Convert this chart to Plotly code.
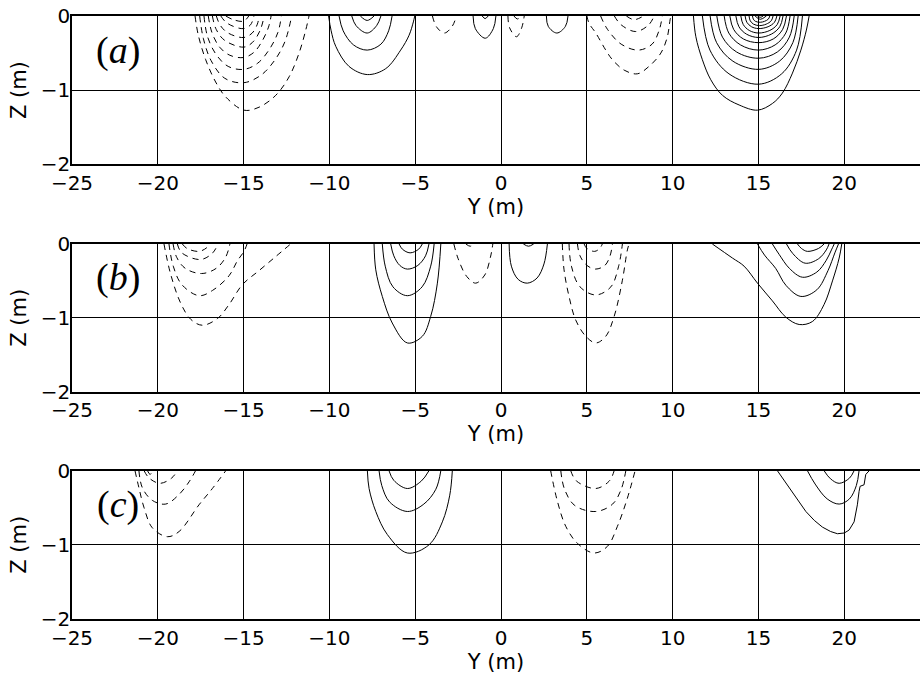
import plotly.graph_objects as go

# Axis ticks (metres)
Y_TICKS = [-25, -20, -15, -10, -5, 0, 5, 10, 15, 20, 25]
Z_TICKS = [-2, -1, 0]
Y_RANGE = [-25, 24.41]
Z_RANGE = [-2, 0]
PANEL_LABELS = ["(<i>a</i>)", "(<i>b</i>)", "(<i>c</i>)"]

# Contour lines, one (Y, Z) pair of lists per line.
# Positive levels are drawn solid, negative levels dashed.

# ---- panel (a) ----
A_POSITIVE = [
    # cell near Y = -8
    ([-10.05, -9.9, -9.63, -8.86, -7.79, -6.72, -5.85, -5.36, -5.11, -5.03],
     [0, -0.2, -0.41, -0.68, -0.79, -0.71, -0.46, -0.26, -0.08, 0]),
    ([-9.44, -9.2, -8.6, -7.8, -7.0, -6.55, -6.35],
     [0, -0.2, -0.39, -0.46, -0.38, -0.2, 0]),
    ([-8.7, -8.45, -7.8, -7.25, -7.0],
     [0, -0.13, -0.23, -0.13, 0]),
    ([-8.2, -7.8, -7.4],
     [0, -0.06, 0]),
    # small cells near the centre
    ([-1.63, -1.5, -0.92, -0.45, -0.3],
     [0, -0.17, -0.30, -0.17, 0]),
    ([-1.1, -0.93, -0.75],
     [0, -0.035, 0]),
    ([2.64, 2.75, 3.25, 3.75, 3.9],
     [0, -0.14, -0.23, -0.14, 0]),
    # cell near Y = 15
    ([11.21, 11.35, 11.73, 12.22, 12.90, 13.87, 14.94, 15.81, 16.39, 16.98, 17.47, 17.79, 17.95],
     [0, -0.28, -0.59, -0.86, -1.07, -1.20, -1.27, -1.18, -1.04, -0.77, -0.46, -0.19, 0]),
    ([11.73, 12.17, 13.28, 15.0, 16.35, 17.22, 17.56],
     [0, -0.46, -0.78, -0.92, -0.78, -0.46, 0]),
    ([12.18, 12.56, 13.51, 15.0, 16.22, 17.0, 17.31],
     [0, -0.36, -0.61, -0.72, -0.61, -0.36, 0]),
    ([12.57, 12.90, 13.72, 15.0, 16.10, 16.80, 17.08],
     [0, -0.285, -0.485, -0.57, -0.485, -0.285, 0]),
    ([13.0, 13.27, 13.95, 15.0, 15.97, 16.59, 16.84],
     [0, -0.23, -0.39, -0.46, -0.39, -0.23, 0]),
    ([13.33, 13.55, 14.12, 15.0, 15.86, 16.41, 16.63],
     [0, -0.18, -0.31, -0.36, -0.31, -0.18, 0]),
    ([13.68, 13.86, 14.30, 15.0, 15.75, 16.24, 16.43],
     [0, -0.145, -0.245, -0.29, -0.245, -0.145, 0]),
    ([13.97, 14.11, 14.46, 15.0, 15.66, 16.09, 16.26],
     [0, -0.115, -0.195, -0.23, -0.195, -0.115, 0]),
    ([14.22, 14.32, 14.59, 15.0, 15.56, 15.93, 16.07],
     [0, -0.085, -0.145, -0.17, -0.145, -0.085, 0]),
    ([14.45, 14.52, 14.71, 15.05, 15.45, 15.74, 15.85],
     [0, -0.065, -0.11, -0.13, -0.11, -0.065, 0]),
    ([14.65, 14.70, 14.82, 15.1, 15.35, 15.57, 15.66],
     [0, -0.043, -0.072, -0.085, -0.072, -0.043, 0]),
    ([14.80, 15.1, 15.46],
     [0, -0.045, 0]),
    ([14.94, 15.1, 15.27],
     [0, -0.018, 0]),
]
A_NEGATIVE = [
    # cell near Y = -15
    ([-17.83, -17.64, -17.21, -16.63, -16.05, -14.98, -14.10, -13.13, -12.35, -11.77, -11.38, -11.19],
     [0, -0.26, -0.59, -0.89, -1.09, -1.27, -1.23, -1.07, -0.82, -0.50, -0.19, 0]),
    ([-17.56, -17.35, -16.9, -16.1, -15.0, -14.0, -13.2, -12.6, -12.2],
     [0, -0.3, -0.6, -0.84, -0.90, -0.80, -0.6, -0.35, 0]),
    ([-17.31, -17.1, -16.6, -15.9, -15.0, -14.2, -13.5, -13.0, -12.8],
     [0, -0.28, -0.52, -0.68, -0.72, -0.64, -0.45, -0.22, 0]),
    ([-17.06, -16.85, -16.4, -15.8, -15.0, -14.4, -13.9, -13.55, -13.4],
     [0, -0.22, -0.42, -0.53, -0.56, -0.49, -0.33, -0.15, 0]),
    ([-16.82, -16.6, -16.1, -15.0, -14.5, -14.05, -13.8],
     [0, -0.18, -0.33, -0.42, -0.36, -0.2, 0]),
    ([-16.59, -16.35, -15.9, -15.0, -14.5, -14.2, -14.1],
     [0, -0.13, -0.23, -0.29, -0.23, -0.11, 0]),
    ([-16.33, -16.05, -15.6, -15.0, -14.6, -14.4],
     [0, -0.08, -0.14, -0.17, -0.12, 0]),
    ([-16.04, -15.6, -15.0, -14.7],
     [0, -0.05, -0.07, 0]),
    # small cells near the centre
    ([-4.0, -3.75, -3.3, -2.85, -2.6],
     [0, -0.15, -0.23, -0.14, 0]),
    ([0.4, 0.5, 0.9, 1.2, 1.35],
     [0, -0.16, -0.28, -0.16, 0]),
    ([0.75, 0.95, 1.2],
     [0, -0.04, 0]),
    # cell near Y = 8
    ([5.0, 5.13, 5.52, 6.1, 6.49, 7.17, 7.94, 8.62, 9.31, 9.69, 9.85, 9.9],
     [0, -0.10, -0.23, -0.46, -0.59, -0.73, -0.78, -0.68, -0.50, -0.28, -0.05, 0]),
    ([5.8, 6.2, 7.0, 8.0, 8.8, 9.2, 9.4],
     [0, -0.18, -0.38, -0.46, -0.38, -0.2, 0]),
    ([6.6, 7.0, 7.85, 8.6, 8.92],
     [0, -0.12, -0.21, -0.12, 0]),
    ([7.3, 7.75, 8.3],
     [0, -0.05, 0]),
]

# ---- panel (b) ----
B_POSITIVE = [
    # cell near Y = -5.5
    ([-7.40, -7.30, -6.92, -6.34, -5.46, -4.59, -4.10, -3.71, -3.51],
     [0, -0.35, -0.71, -1.07, -1.34, -1.25, -0.98, -0.53, 0]),
    ([-6.92, -6.75, -6.3, -5.46, -4.6, -4.1, -3.90],
     [0, -0.3, -0.58, -0.70, -0.58, -0.3, 0]),
    ([-6.43, -6.25, -5.9, -5.46, -4.85, -4.4, -4.20],
     [0, -0.16, -0.29, -0.34, -0.29, -0.16, 0]),
    ([-5.94, -5.75, -5.3, -4.8, -4.59],
     [0, -0.07, -0.12, -0.07, 0]),
    # cell near Y = 1.5
    ([0.47, 0.6, 1.0, 1.53, 2.1, 2.5, 2.70],
     [0, -0.3, -0.48, -0.53, -0.46, -0.27, 0]),
    ([1.3, 1.6, 1.9],
     [0, -0.03, 0]),
    # cell near Y = 17.5
    ([12.31, 13.48, 14.16, 14.94, 15.81, 16.59, 17.37, 18.14, 18.82, 19.31, 19.70, 19.85],
     [0, -0.19, -0.30, -0.53, -0.77, -0.99, -1.09, -1.05, -0.82, -0.50, -0.19, 0]),
    ([14.94, 15.35, 16.0, 16.6, 17.47, 18.4, 19.05, 19.45, 19.66],
     [0, -0.15, -0.33, -0.56, -0.71, -0.62, -0.36, -0.12, 0]),
    ([15.81, 16.2, 16.8, 17.56, 18.4, 18.95, 19.25, 19.41],
     [0, -0.14, -0.33, -0.45, -0.38, -0.22, -0.08, 0]),
    ([16.63, 17.0, 17.72, 18.5, 18.95, 19.11],
     [0, -0.13, -0.26, -0.20, -0.08, 0]),
    ([17.27, 17.5, 17.85, 18.5, 18.82],
     [0, -0.06, -0.10, -0.06, 0]),
]
B_NEGATIVE = [
    # cell near Y = -17.5
    ([-19.64, -19.25, -18.67, -18.08, -17.41, -16.53, -15.85, -15.07, -14.10, -13.13, -12.26],
     [0, -0.41, -0.80, -1.02, -1.10, -1.01, -0.82, -0.55, -0.36, -0.17, 0]),
    ([-19.35, -19.1, -18.6, -17.6, -16.82, -15.85, -15.37, -14.98, -14.8],
     [0, -0.3, -0.55, -0.70, -0.63, -0.43, -0.23, -0.1, 0]),
    ([-19.11, -18.9, -18.4, -17.45, -16.6, -16.05, -15.8],
     [0, -0.18, -0.33, -0.40, -0.33, -0.18, 0]),
    ([-18.86, -18.6, -17.5, -16.8, -16.5],
     [0, -0.12, -0.21, -0.12, 0]),
    ([-18.57, -18.3, -17.6, -17.15, -17.0],
     [0, -0.06, -0.10, -0.05, 0]),
    # cell near Y = -1.5
    ([-2.75, -2.5, -2.0, -1.48, -0.95, -0.62, -0.48],
     [0, -0.2, -0.44, -0.53, -0.42, -0.18, 0]),
    ([-2.05, -1.8, -1.55],
     [0, -0.03, 0]),
    # cell near Y = 5.5
    ([3.57, 3.67, 3.96, 4.35, 4.94, 5.52, 6.1, 6.59, 7.07, 7.36, 7.46],
     [0, -0.35, -0.71, -1.03, -1.25, -1.34, -1.25, -0.98, -0.49, -0.08, 0]),
    ([3.96, 4.1, 4.6, 5.52, 6.4, 6.85, 7.07],
     [0, -0.3, -0.58, -0.69, -0.58, -0.3, 0]),
    ([4.45, 4.6, 5.0, 5.5, 6.05, 6.35, 6.49],
     [0, -0.16, -0.29, -0.34, -0.29, -0.16, 0]),
    ([4.84, 5.0, 5.45, 5.75, 5.9],
     [0, -0.06, -0.10, -0.06, 0]),
]

# ---- panel (c) ----
C_POSITIVE = [
    # cell near Y = -5.5
    ([-7.79, -7.69, -7.30, -6.63, -5.46, -4.20, -3.42, -2.99, -2.84],
     [0, -0.24, -0.55, -0.86, -1.11, -1.0, -0.69, -0.33, 0]),
    ([-7.11, -6.95, -6.5, -5.46, -4.5, -3.8, -3.51],
     [0, -0.2, -0.42, -0.55, -0.45, -0.25, 0]),
    ([-6.53, -6.25, -5.46, -4.65, -4.20],
     [0, -0.13, -0.24, -0.14, 0]),
    # cell near Y = 20
    ([16.1, 16.4, 16.78, 17.3, 17.76, 18.25, 18.72, 19.2, 19.6, 20.0, 20.28, 20.57, 20.76, 20.86, 20.92, 21.15, 21.25, 21.45],
     [0, -0.1, -0.24, -0.4, -0.55, -0.67, -0.76, -0.82, -0.85, -0.84, -0.80, -0.69, -0.46, -0.28, -0.21, -0.19, -0.05, 0]),
    ([17.85, 18.3, 19.0, 19.70, 20.3, 20.7, 20.86],
     [0, -0.18, -0.38, -0.45, -0.38, -0.2, 0]),
    ([18.82, 19.2, 19.70, 20.3, 20.57],
     [0, -0.11, -0.17, -0.1, 0]),
]
C_NEGATIVE = [
    # cell near Y = -20
    ([-21.33, -21.1, -20.8, -20.32, -19.44, -18.76, -17.6, -16.82, -16.04],
     [0, -0.23, -0.5, -0.77, -0.89, -0.82, -0.46, -0.24, 0]),
    ([-21.1, -20.9, -20.32, -19.54, -18.76, -18.18, -17.8],
     [0, -0.23, -0.40, -0.45, -0.32, -0.15, 0]),
    ([-20.8, -20.5, -19.88, -19.2, -18.86],
     [0, -0.1, -0.17, -0.1, 0]),
    ([-20.6, -20.45, -20.3],
     [0, -0.05, 0]),
    # cell near Y = 5.5
    ([2.89, 3.28, 3.77, 4.45, 5.42, 6.20, 6.78, 7.36, 7.81],
     [0, -0.41, -0.75, -0.98, -1.11, -1.02, -0.75, -0.37, 0]),
    ([3.48, 3.7, 4.3, 5.52, 6.5, 7.0, 7.27],
     [0, -0.25, -0.47, -0.55, -0.45, -0.25, 0]),
    ([4.06, 4.4, 5.52, 6.3, 6.59],
     [0, -0.14, -0.24, -0.14, 0]),
]

PANELS = [
    (A_POSITIVE, A_NEGATIVE),
    (B_POSITIVE, B_NEGATIVE),
    (C_POSITIVE, C_NEGATIVE),
]

# vertical placement of the three panels (paper fraction)
DOMAINS = [[0.7573, 0.9764], [0.4214, 0.6396], [0.0857, 0.3047]]

TICK_FONT = dict(family="DejaVu Sans", size=20, color="black")
TITLE_FONT = dict(family="DejaVu Sans", size=21, color="black")

fig = go.Figure()

for i, (pos_lines, neg_lines) in enumerate(PANELS):
    sfx = "" if i == 0 else str(i + 1)
    for lines, dash in ((pos_lines, "solid"), (neg_lines, "6px,5px")):
        for ys, zs in lines:
            shape = "linear" if len(ys) > 14 else "spline"
            fig.add_trace(go.Scatter(
                x=ys, y=zs, mode="lines",
                line=dict(color="black", width=1, dash=dash,
                          shape=shape, smoothing=1.0),
                xaxis="x" + sfx, yaxis="y" + sfx,
                showlegend=False, hoverinfo="skip",
            ))

    axis_common = dict(
        showgrid=True, gridcolor="black", gridwidth=1,
        showline=True, linecolor="black", linewidth=1.5,
        zeroline=False, ticks="", tickfont=TICK_FONT,
        title_font=TITLE_FONT, automargin=False,
    )
    fig.update_layout(**{
        "xaxis" + sfx: dict(
            domain=[0, 1], range=Y_RANGE, tickvals=Y_TICKS,
            anchor="y" + sfx, mirror=True,
            title=dict(text="Y (m)", standoff=4),
            **axis_common,
        ),
        "yaxis" + sfx: dict(
            domain=DOMAINS[i], range=Z_RANGE, tickvals=Z_TICKS,
            anchor="x" + sfx, mirror=False, ticklabelstandoff=-4,
            title=dict(text="Z (m)", standoff=8),
            **axis_common,
        ),
    })
    fig.add_annotation(
        x=-22.3, y=-0.46, xref="x" + sfx, yref="y" + sfx,
        text=PANEL_LABELS[i], showarrow=False,
        font=dict(family="Liberation Serif", size=38, color="black"),
        xanchor="center", yanchor="middle",
    )

fig.update_layout(
    width=920, height=677,
    margin=dict(l=72, r=0, t=0, b=0),
    paper_bgcolor="white", plot_bgcolor="white",
    showlegend=False,
)

fig.write_html("out.html")
